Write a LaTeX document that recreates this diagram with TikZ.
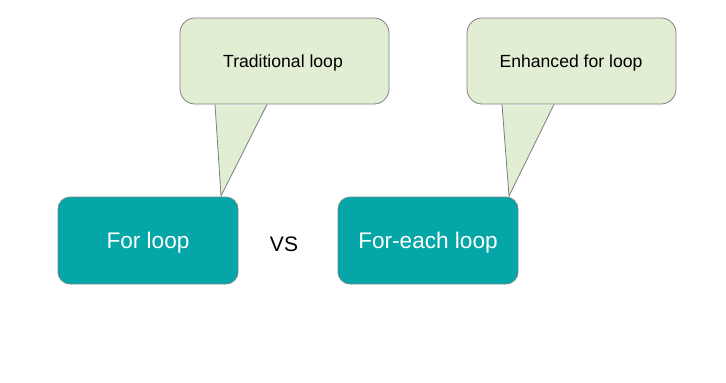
\documentclass[tikz,border=0pt]{standalone}
\usepackage{fontspec}
\setmainfont{Liberation Sans}
\definecolor{calloutfill}{HTML}{E1EED4}
\definecolor{calloutline}{HTML}{7F7F7F}
\definecolor{tealfill}{HTML}{05A6A8}
\definecolor{tealline}{HTML}{6E8E8E}
\tikzset{
  calloutbox/.style={draw=calloutline, fill=calloutfill, line width=0.8pt, rounded corners=15pt,
    minimum width=209pt, minimum height=86pt, inner sep=0pt, font=\fontsize{17.6}{20}\selectfont},
  pointerfill/.style={fill=calloutfill},
  pointerline/.style={draw=calloutline, line width=0.8pt, line join=miter},
  loopbox/.style={draw=tealline, fill=tealfill, line width=0.8pt, rounded corners=12pt,
    minimum width=180pt, minimum height=87pt, inner sep=0pt, text=white, font=\fontsize{22.6}{26}\selectfont},
  vslabel/.style={font=\fontsize{21}{24}\selectfont, inner sep=0pt}
}
\begin{document}
\begin{tikzpicture}[x=1pt,y=-1pt]
\useasboundingbox (0,0) rectangle (726,383);
% callouts
\node[calloutbox] (c1) at (284.5,61) {};
\node[calloutbox] (c2) at (571.5,61) {};
\node[font=\fontsize{17.6}{20}\selectfont, inner sep=0pt] (t1txt) at (283,62.5) {Traditional loop};
\node[font=\fontsize{17.6}{20}\selectfont, inner sep=0pt] (t2txt) at (571,62.5) {Enhanced for loop};
% loop boxes
\node[loopbox] (forbox) at (148,240.5) {};
\node[loopbox] (eachbox) at (428,240.5) {};
\node[text=white, font=\fontsize{22.6}{26}\selectfont, inner sep=0pt] (fortxt) at (148,242.5) {For loop};
\node[text=white, font=\fontsize{22.6}{26}\selectfont, inner sep=0pt] (eachtxt) at (428,242.5) {For-each loop};
\node[vslabel] (vs) at (284,244) {VS};
% pointers
\coordinate (p1) at (221,196);
\coordinate (p2) at (509,196);
\fill[pointerfill] ([xshift=-69.5pt,yshift=-1pt]c1.south) -- (p1) -- ([xshift=-17.5pt,yshift=-1pt]c1.south) -- cycle;
\draw[pointerline] ([xshift=-69.5pt]c1.south) -- (p1) -- ([xshift=-17.5pt]c1.south);
\fill[pointerfill] ([xshift=-69.5pt,yshift=-1pt]c2.south) -- (p2) -- ([xshift=-17.5pt,yshift=-1pt]c2.south) -- cycle;
\draw[pointerline] ([xshift=-69.5pt]c2.south) -- (p2) -- ([xshift=-17.5pt]c2.south);
\end{tikzpicture}
\end{document}
